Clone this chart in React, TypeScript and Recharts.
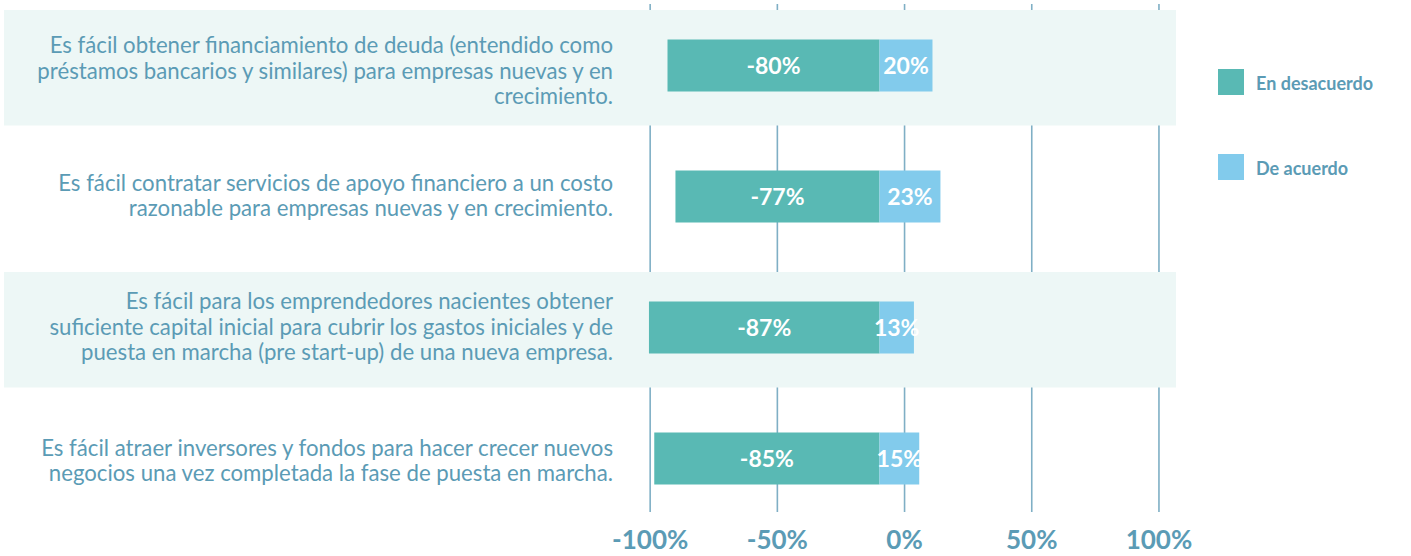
import React from "react";
import {
  BarChart,
  Bar,
  XAxis,
  YAxis,
  CartesianGrid,
  ReferenceArea,
  LabelList,
  Legend,
} from "recharts";

// statements, one per row ("\n" marks the line breaks of the label)
const categories = [
  "Es fácil obtener financiamiento de deuda (entendido como\npréstamos bancarios y similares) para empresas nuevas y en\ncrecimiento.",
  "Es fácil contratar servicios de apoyo financiero a un costo\nrazonable para empresas nuevas y en crecimiento.",
  "Es fácil para los emprendedores nacientes obtener\nsuficiente capital inicial para cubrir los gastos iniciales y de\npuesta en marcha (pre start-up) de una nueva empresa.",
  "Es fácil atraer inversores y fondos para hacer crecer nuevos\nnegocios una vez completada la fase de puesta en marcha.",
];
const desacuerdo = [-80, -77, -87, -85];
const deAcuerdo = [20, 23, 13, 15];
const seriesNames = ["En desacuerdo", "De acuerdo"];
const pctTicks = [-100, -50, 0, 50, 100];
const shadedRows = [0, 2];

const TEAL = "#59b9b4";
const SKY = "#82cbec";
const TEXT = "#5b9bb5";
const GRID = "#7fafc5";
const BAND = "#edf7f6";

const data = categories.map((c, i) => ({
  name: c,
  desacuerdo: desacuerdo[i],
  deAcuerdo: deAcuerdo[i],
}));

// right edge of the row labels
const LABEL_RIGHT = 613;
const LINE_H = 25.8;

function RowLabel(props: any) {
  const { y, payload, index } = props;
  const lines: string[] = String(payload.value).split("\n");
  const first = -((lines.length - 1) / 2) * LINE_H;
  // the first statement sits a little lower in its row
  const nudge = index === 0 ? 6 : index === 3 ? 3 : 0;
  return (
    <text
      x={LABEL_RIGHT}
      y={y + nudge}
      textAnchor="end"
      fill={TEXT}
      fontSize={22.2}
      fontFamily="Lato"
    >
      {lines.map((l, i) => (
        <tspan key={i} x={LABEL_RIGHT} dy={i === 0 ? first + 7.5 : LINE_H}>
          {l}
        </tspan>
      ))}
    </text>
  );
}

function Band(props: any) {
  const { x, y, width, height } = props;
  return <rect x={x} y={y + 10.5} width={width} height={height - 15.5} fill={BAND} />;
}

function LegendBox(props: any) {
  const items = [...(props.payload || [])].sort(
    (a: any, b: any) => seriesNames.indexOf(a.value) - seriesNames.indexOf(b.value)
  );
  return (
    <div style={{ fontFamily: "Lato" }}>
      {items.map((it: any, i: number) => (
        <div
          key={i}
          style={{ display: "flex", alignItems: "center", height: 26, marginBottom: 59 }}
        >
          <span style={{ width: 26, height: 26, background: it.color, display: "inline-block" }} />
          <span style={{ marginLeft: 12, color: TEXT, fontWeight: 700, fontSize: 18, marginTop: 2 }}>
            {it.value}
          </span>
        </div>
      ))}
    </div>
  );
}

export default function App() {
  return (
    <div style={{ position: "absolute", left: 0, top: 0, fontFamily: "Lato" }}>
      <BarChart
        width={1411}
        height={556}
        data={data}
        layout="vertical"
        stackOffset="sign"
        margin={{ top: 4, right: 235, bottom: 0, left: 3 }}
      >
        {shadedRows.map((r) => (
          <ReferenceArea
            key={r}
            xAxisId="pct"
            y1={categories[r]}
            y2={categories[r]}
            shape={Band}
            ifOverflow="visible"
          />
        ))}
        <CartesianGrid
          xAxisId="pct"
          horizontal={false}
          syncWithTicks
          stroke={GRID}
          strokeWidth={1.6}
        />
        <XAxis
          xAxisId="pct"
          type="number"
          domain={[-354, 106.7]}
          allowDataOverflow
          ticks={pctTicks}
          tickFormatter={(v: number) => `${v}%`}
          axisLine={false}
          tickLine={false}
          tickMargin={-17}
          height={44}
          tick={{ fontSize: 26, fontWeight: 700, fill: TEXT, fontFamily: "Lato" }}
        />
        <XAxis
          xAxisId="bar"
          type="number"
          domain={[-330.4, 111.9]}
          allowDataOverflow
          hide
        />
        <YAxis
          type="category"
          dataKey="name"
          width={1}
          axisLine={false}
          tickLine={false}
          padding={{ top: -4.5, bottom: -11.5 }}
          tick={(p: any) => <RowLabel {...p} />}
          interval={0}
        />
        <Legend
          layout="vertical"
          align="center"
          verticalAlign="middle"
          content={<LegendBox />}
          wrapperStyle={{ left: 1218, top: 69, width: 190, height: 130 }}
        />
        <Bar
          xAxisId="bar"
          dataKey="desacuerdo"
          name="En desacuerdo"
          stackId="s"
          fill={TEAL}
          barSize={52}
          isAnimationActive={false}
        >
          <LabelList
            dataKey="desacuerdo"
            position="center"
            fill="#ffffff"
            fontSize={23}
            fontWeight={700}
            fontFamily="Lato"
            formatter={(v: any) => `${v}%`}
          />
        </Bar>
        <Bar
          xAxisId="bar"
          dataKey="deAcuerdo"
          name="De acuerdo"
          stackId="s"
          fill={SKY}
          barSize={52}
          isAnimationActive={false}
        >
          <LabelList
            dataKey="deAcuerdo"
            position="center"
            fill="#ffffff"
            fontSize={23}
            fontWeight={700}
            fontFamily="Lato"
            formatter={(v: any) => `${v}%`}
          />
        </Bar>
      </BarChart>
    </div>
  );
}
